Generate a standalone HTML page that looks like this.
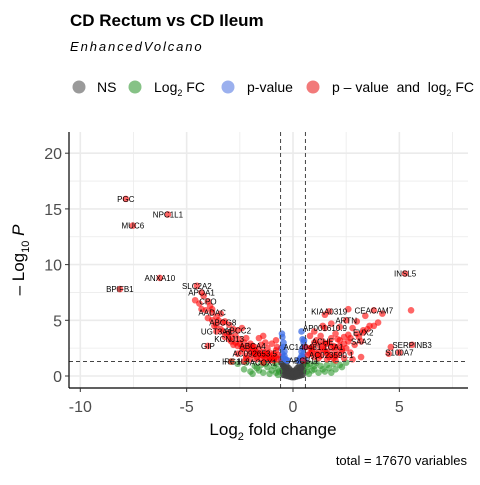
<!DOCTYPE html>
<html><head><meta charset="utf-8"><style>
body{margin:0;background:#fff;width:480px;height:480px;overflow:hidden;font-family:"Liberation Sans",sans-serif}
svg text{font-family:"Liberation Sans",sans-serif}
</style></head><body>
<svg id="chart" width="480" height="480" xmlns="http://www.w3.org/2000/svg">
<text x="70" y="26" font-size="17" font-weight="bold" fill="#000">CD Rectum vs CD Ileum</text>
<text x="70" y="51" font-size="13" font-style="italic" letter-spacing="1.9" fill="#000">EnhancedVolcano</text>
<g font-size="14" fill="#000">
<g><circle cx="79" cy="87" r="6.5" fill="#9a9a9a"/><text x="97" y="92">NS</text></g>
<g><circle cx="135" cy="87" r="6.5" fill="#86c286"/><text x="154" y="92">Log<tspan font-size="9" dy="4">2</tspan><tspan dy="-4"> FC</tspan></text></g>
<g><circle cx="228" cy="87" r="6.5" fill="#9bb0ee"/><text x="247" y="92">p-value</text></g>
<g><circle cx="313" cy="87" r="6.5" fill="#f27a7a"/><text x="332" y="92" xml:space="preserve">p – value  and  log<tspan font-size="9" dy="4">2</tspan><tspan dy="-4"> FC</tspan></text></g>
</g>
<g id="grid"></g>
<g id="points"></g>
<g id="cutoffs"></g>
<g id="labels" font-size="8" fill="#000"></g>
<g id="axes"></g>
<text x="273" y="435" font-size="17" text-anchor="middle">Log<tspan font-size="11" dy="5">2</tspan><tspan dy="-5"> fold change</tspan></text>
<text transform="translate(24,260) rotate(-90)" font-size="17" text-anchor="middle">– Log<tspan font-size="11" dy="5">10</tspan><tspan dy="-5" font-style="italic"> P</tspan></text>
<text x="467" y="465" font-size="13" text-anchor="end">total = 17670 variables</text>
</svg>
<script>
const xTicks=[-10,-5,0,5];
const yTicks=[0,5,10,15,20];
const fcCut=0.585, pCut=1.3;
const labelGenes=["PGC","NPC1L1","MUC6","ANXA10","BPIFB1","SLC2A2","APOA1","CPO","AADAC","ABCG8","UGT3A1","ABCC2","KCNJ13","GIP","ABCA4","AC092653.5","IL8","IRG1","ACOX1","INSL5","CEACAM7","KIAA0319","ARTN","AP001610.9","EVX2","SAA2","SERPINB3","S100A7","ACHE","AC140481.1","CA1","AC023590.1","ABCB11"];
const labelFC=[-7.86,-5.88,-7.53,-6.26,-8.14,-4.52,-4.3,-4.0,-3.8,-3.3,-3.6,-2.6,-3.0,-4.0,-1.9,-1.8,-2.3,-2.9,-1.4,5.27,3.8,1.7,2.5,1.5,3.3,3.2,5.6,5.0,1.4,0.6,2.0,1.8,0.5];
const labelP=[15.9,14.5,13.5,8.8,7.8,8.1,7.5,6.7,5.7,4.8,4.0,4.1,3.3,2.7,2.7,2.0,1.3,1.3,1.2,9.2,5.9,5.8,5.0,4.3,3.9,3.1,2.8,2.1,3.1,2.6,2.6,1.9,1.4];
const redFC=[-4.2,-4.6,-3.9,-4.1,-3.6,-3.4,-3.2,-3.0,-2.8,-3.5,-3.1,-2.7,-2.5,-2.3,-2.2,-2.0,-1.8,-1.6,-1.4,-1.2,-1.0,-0.9,-0.8,-0.7,-2.6,-2.4,-2.1,-1.9,-1.7,-1.5,-1.3,-1.1,-3.7,-3.3,-2.9,-2.6,-2.2,-1.8,-1.5,-1.2,-1.0,-0.8,-2.0,-1.6,-2.8,-3.2,-0.7,-0.9,-1.1,-3.8,-4.4,-2.4,-1.4,5.55,4.2,4.0,3.6,3.4,3.0,2.8,2.6,2.4,2.2,2.0,1.8,1.6,1.4,1.2,1.0,0.8,0.7,0.9,1.1,1.3,1.5,1.7,1.9,2.1,2.3,2.5,2.7,2.9,3.1,3.5,2.2,1.8,1.4,1.0,0.8,1.2,1.6,2.0,2.4,2.8,3.2,4.6,4.5,2.6,1.5,0.9,-1.3,-0.75,
-3.4,-3.0,-2.7,-2.4,-2.1,-1.9,-1.7,-1.5,-1.3,-1.1,-0.9,-0.8,-2.5,-2.3,-2.0,-1.8,-1.6,-1.4,-1.2,-1.0,-2.9,-3.6,-4.0,-4.3,-3.8,-2.2,-1.7,-1.3,
0.8,1.0,1.2,1.4,1.6,1.8,2.0,2.2,2.4,2.6,0.9,1.1,1.3,1.5,1.7,1.9,2.1,2.3,2.7,3.0,3.3,3.8,1.2,1.6,2.0];
const redP=[7.2,6.8,6.3,5.9,5.3,5.6,4.9,4.6,4.2,5.0,3.8,3.6,3.3,3.0,3.4,2.9,2.6,2.4,2.2,2.0,1.8,1.6,2.3,1.9,2.7,2.2,2.4,1.9,1.7,1.6,1.5,1.4,4.5,4.0,3.1,2.0,1.8,2.0,2.8,2.5,2.9,3.2,1.5,3.4,2.8,3.5,1.5,1.4,1.7,6.0,6.5,4.3,3.6,5.9,5.6,4.8,4.5,5.4,4.9,4.3,3.7,3.5,3.2,3.8,3.4,2.9,2.6,2.8,3.0,2.5,1.9,2.2,2.0,1.8,2.3,1.7,1.6,1.9,2.2,2.5,2.1,2.8,3.5,4.2,4.4,4.7,4.5,4.0,3.6,1.6,1.5,1.4,1.6,1.5,1.7,2.6,2.0,6.0,5.5,2.4,3.0,2.6,
4.2,3.9,3.0,2.6,2.7,2.5,2.1,1.9,2.0,2.1,2.0,1.7,2.9,2.5,2.2,2.3,2.0,1.8,1.6,1.5,3.5,4.6,5.2,6.0,5.0,1.6,1.5,1.9,
2.0,1.7,2.2,2.4,2.1,2.5,2.3,2.7,2.9,3.1,2.6,3.2,3.6,2.9,3.0,2.7,3.3,2.4,3.4,3.8,4.1,4.5,1.9,2.0,1.8];
const blueFC=[-0.55,-0.5,-0.45,-0.4,-0.35,-0.3,-0.5,-0.45,-0.4,-0.55,0.55,0.5,0.45,0.4,0.35,0.3,0.5,0.45,0.4,0.55,-0.52,0.52,-0.25,0.25,0.4,-0.48,0.48,0.35];
const blueP=[1.5,2.0,2.6,1.8,1.5,1.4,3.5,3.0,2.2,2.5,1.5,2.0,2.5,1.8,1.5,1.4,3.0,3.3,2.2,2.6,3.8,3.2,1.4,1.4,4.0,1.7,1.7,1.6];
const greenFC=[-2.6,-2.3,-2.0,-1.8,-1.6,-1.4,-1.2,-1.0,-0.8,-0.7,-2.2,-1.9,-1.5,-1.1,-0.9,-0.7,-1.7,-1.3,-0.8,-0.65,0.65,0.8,1.0,1.2,1.4,1.6,1.8,2.0,2.2,2.5,0.7,0.9,1.1,1.3,1.5,1.7,1.9,0.75,1.0,0.65,-2.9,2.3];
const greenP=[1.1,0.6,0.4,0.9,0.5,0.3,0.8,0.5,0.3,0.1,1.2,0.2,1.0,0.2,0.9,0.6,0.7,1.1,1.1,0.4,0.4,1.1,0.9,0.3,0.6,1.0,0.3,0.6,1.0,1.2,0.8,0.5,1.2,0.9,0.4,0.7,1.1,0.2,0.6,1.0,1.3,0.8];
const grayFC=[-0.55,-0.5,-0.45,-0.4,-0.35,-0.3,-0.25,-0.2,-0.15,-0.1,-0.05,0,0.05,0.1,0.15,0.2,0.25,0.3,0.35,0.4,0.45,0.5,0.55,-0.5,-0.4,-0.3,-0.2,-0.1,0,0.1,0.2,0.3,0.4,0.5,-0.45,-0.35,-0.25,-0.15,-0.05,0.05,0.15,0.25,0.35,0.45,-0.3,-0.2,-0.1,0,0.1,0.2,0.3,-0.15,0,0.15];
const grayP=[1.2,1.1,0.9,0.8,0.7,0.6,0.5,0.4,0.3,0.2,0.1,0,0.1,0.2,0.3,0.4,0.5,0.6,0.7,0.8,0.9,1.1,1.2,0.5,0.4,0.3,0.2,0.1,-0.05,0.1,0.2,0.3,0.4,0.5,0.1,0.05,0,-0.05,-0.1,-0.1,-0.05,0,0.05,0.1,0.9,0.7,0.5,0.4,0.5,0.7,0.9,0.25,0.2,0.25];
const X0=69,X1=468,Y0=132,Y1=388;
function sx(v){return 293+v*21.27;}
function sy(v){return 376-v*11.14;}
const NS="http://www.w3.org/2000/svg";
function mk(tag,attrs,parent){const e=document.createElementNS(NS,tag);for(const k in attrs)e.setAttribute(k,attrs[k]);parent.appendChild(e);return e;}
const grid=document.getElementById('grid');
for(let v=-12.5;v<=10;v+=2.5){const x=sx(v);if(x<X0||x>X1)continue;const major=Number.isInteger(v/5);
const l=mk('line',{x1:x,x2:x,y1:Y0,y2:Y1,stroke:'#ebebeb','stroke-width':major?1.6:0.8},grid);

}
for(let v=-2.5;v<=22.5;v+=2.5){const y=sy(v);if(y<Y0||y>Y1)continue;const major=Number.isInteger(v/5);
const l=mk('line',{x1:X0,x2:X1,y1:y,y2:y,stroke:'#ebebeb','stroke-width':major?1.6:0.8},grid);

}
const pts=document.getElementById('points');
function series(fx,py,col,op,name){for(let i=0;i<fx.length;i++){const c=mk('circle',{cx:sx(fx[i]),cy:sy(py[i]),r:3.3,fill:col,'fill-opacity':op},pts);

}}
series(grayFC,grayP,'#404040',0.85,'ns-point');
series(greenFC,greenP,'#2e9a2e',0.6,'log2fc-point');
series(blueFC,blueP,'#3d6ee6',0.75,'pvalue-point');
series(redFC,redP,'#ff0000',0.6,'significant-point');
series(labelFC,labelP,'#ff0000',0.6,'labeled-point');
const cut=document.getElementById('cutoffs');
[[-fcCut],[fcCut]].forEach(([v])=>{const l=mk('line',{x1:sx(v),x2:sx(v),y1:Y0,y2:Y1,stroke:'#444','stroke-dasharray':'4,3','stroke-width':1},cut);

});
const hl=mk('line',{x1:X0,x2:X1,y1:sy(pCut),y2:sy(pCut),stroke:'#444','stroke-dasharray':'4,3','stroke-width':1},cut);


const lab=document.getElementById('labels');
for(let i=0;i<labelGenes.length;i++){const t=mk('text',{x:sx(labelFC[i]),y:sy(labelP[i])+3,'text-anchor':'middle'},lab);t.textContent=labelGenes[i];

}
const ax=document.getElementById('axes');
mk('line',{x1:X0,x2:X0,y1:Y0,y2:Y1,stroke:'#000','stroke-width':1.2},ax);
mk('line',{x1:X0,x2:X1,y1:Y1,y2:Y1,stroke:'#000','stroke-width':1.2},ax);
xTicks.forEach(v=>{mk('line',{x1:sx(v),x2:sx(v),y1:Y1,y2:Y1+4,stroke:'#333'},ax);
const t=mk('text',{x:sx(v),y:412,'text-anchor':'middle','font-size':16,fill:'#4d4d4d'},ax);t.textContent=v<0?'-'+Math.abs(v):v;

});
yTicks.forEach(v=>{mk('line',{x1:X0-4,x2:X0,y1:sy(v),y2:sy(v),stroke:'#333'},ax);
const t=mk('text',{x:X0-7,y:sy(v)+6,'text-anchor':'end','font-size':16,fill:'#4d4d4d'},ax);t.textContent=v;

});
</script>
</body></html>
